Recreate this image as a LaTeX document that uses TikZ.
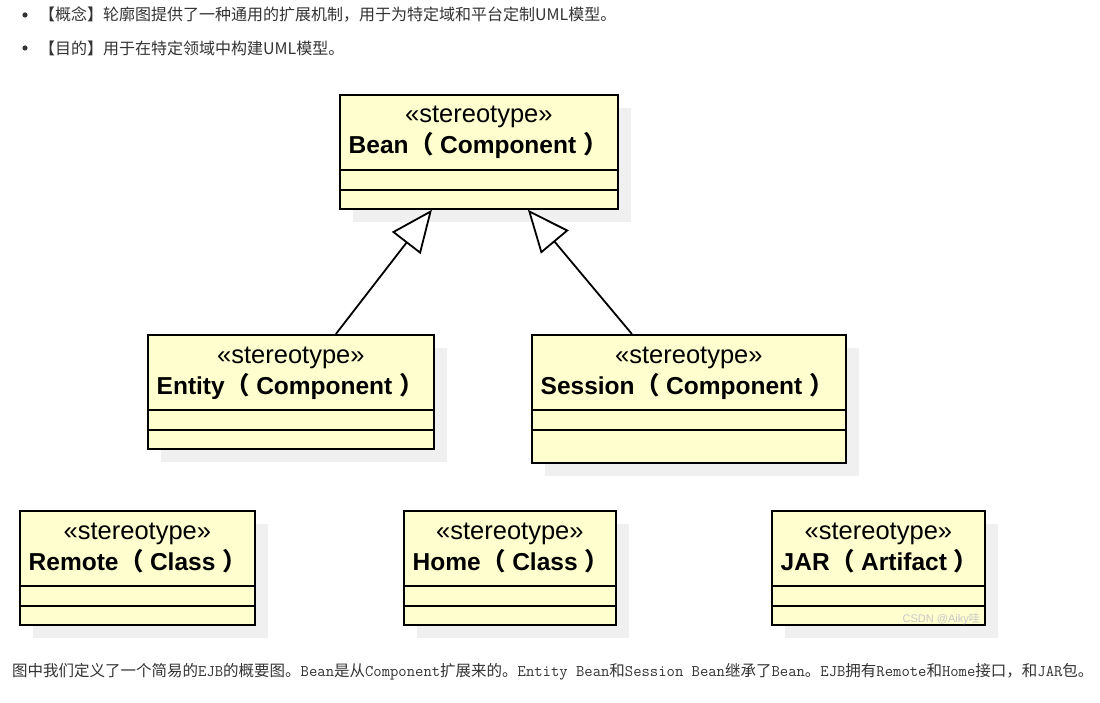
\documentclass[tikz,border=0pt]{standalone}
\usepackage{fontspec}
\setmainfont{Liberation Sans}
\newfontfamily\cjk{Noto Sans CJK SC}
\usetikzlibrary{arrows.meta}
\definecolor{umlfill}{HTML}{FEFECE}
\definecolor{shadowc}{HTML}{F0F0F0}
\definecolor{txtc}{HTML}{333333}
\definecolor{wmark}{HTML}{C8C8C8}
\newcommand{\lp}{\hspace{1pt}{\cjk （}\hspace{6pt}}
\newcommand{\rp}{\hspace{7pt}{\cjk ）}}
\newcommand{\mo}[1]{{\ttfamily\fontsize{16.2}{18}\selectfont #1}}
\tikzset{
  umlnode/.style={draw=black, line width=1.8pt, fill=umlfill, inner sep=0pt, rectangle},
  divider/.style={draw=black, line width=1.8pt},
  stereo/.style={inner sep=0pt, anchor=base, font=\fontsize{25.5}{28}\selectfont},
  namestyle/.style={inner sep=0pt, anchor=base west, font=\fontsize{24.5}{28}\selectfont\bfseries},
  genline/.style={draw=black, line width=1.8pt, -{Triangle[open, length=42pt, width=36pt, fill=white]}},
  para/.style={inner sep=0pt, anchor=west, text=txtc},
}
\newcommand{\umlbox}[6]{%
  \fill[shadowc] (#2+14,#3+14) rectangle ++(#4,#5);
  \node[umlnode, minimum width=#4pt, minimum height=#5pt, anchor=north west] (#1) at (#2,#3) {};
  \draw[divider] ([yshift=-76pt]#1.north west) -- ([yshift=-76pt]#1.north east);
  \draw[divider] ([yshift=-96pt]#1.north west) -- ([yshift=-96pt]#1.north east);
  \node[stereo] (#1-st) at ([yshift=-29pt]#1.north) {«stereotype»};
  \node[namestyle] (#1-nm) at ([xshift=9.5pt,yshift=-60pt]#1.north west) {#6};
}
\begin{document}
\begin{tikzpicture}[x=1pt,y=-1pt]
\useasboundingbox[fill=white] (0,0) rectangle (1100,703);
% bullets
\fill[txtc] (25,15) circle (2.6);
\node[para, font=\cjk\fontsize{16}{18}\selectfont] (t1) at (39,15) {【概念】轮廓图提供了一种通用的扩展机制，用于为特定域和平台定制UML模型。};
\fill[txtc] (25,48) circle (2.6);
\node[para, font=\cjk\fontsize{16}{18}\selectfont] (t2) at (39,48) {【目的】用于在特定领域中构建UML模型。};
% boxes
\umlbox{bean}{339}{94}{278}{114}{Bean\lp Component\rp}
\umlbox{entity}{147}{334}{286}{114}{Entity\lp Component\rp}
\umlbox{session}{531}{334}{314}{128}{Session\lp Component\rp}
\umlbox{remote}{19}{510}{235}{114}{Remote\lp Class\rp}
\umlbox{home}{403}{510}{212}{114}{Home\lp Class\rp}
\umlbox{jar}{771}{510}{213}{114}{JAR\lp Artifact\rp}
% generalizations
\draw[genline] ([xshift=45pt]entity.north) -- ([xshift=-47pt]bean.south);
\draw[genline] ([xshift=-57pt]session.north) -- ([xshift=49pt]bean.south);
% watermark
\node[inner sep=0pt, anchor=east, text=wmark, font=\fontsize{11}{12}\selectfont] (wm) at (980,619) {CSDN @Aiky{\cjk 哇}};
% bottom text
\node[para, font=\cjk\fontsize{15.5}{18}\selectfont] (t3) at (12,672) {图中我们定义了一个简易的\mo{EJB}的概要图。\mo{Bean}是从\mo{Component}扩展来的。\mo{Entity Bean}和\mo{Session Bean}继承了\mo{Bean}。\mo{EJB}拥有\mo{Remote}和\mo{Home}接口，和\mo{JAR}包。};
\end{tikzpicture}
\end{document}
